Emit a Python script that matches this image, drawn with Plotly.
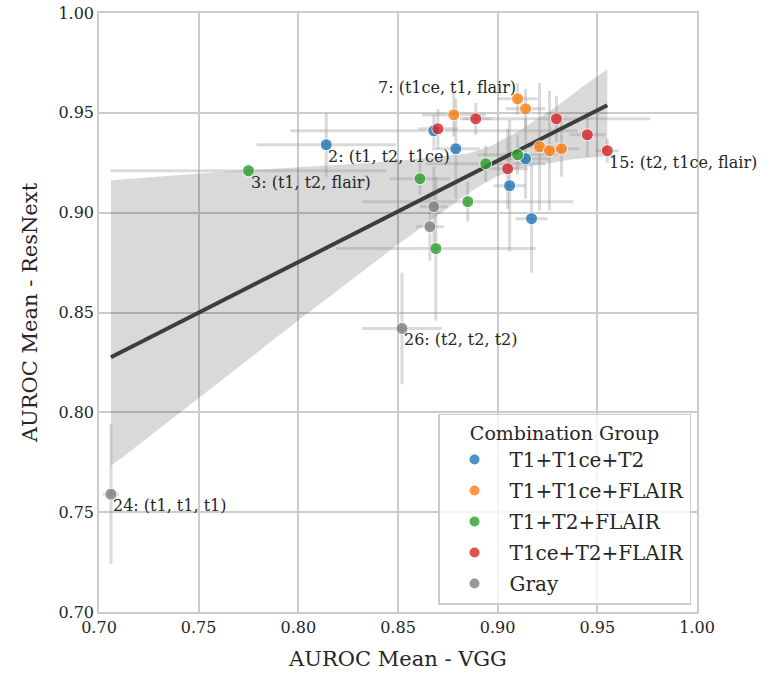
import numpy as np
import plotly.graph_objects as go

groups = ["T1+T1ce+T2", "T1+T1ce+FLAIR", "T1+T2+FLAIR", "T1ce+T2+FLAIR", "Gray"]
colors = ["#1f77b4", "#ff7f0e", "#2ca02c", "#d62728", "#7f7f7f"]

# per-group values: VGG mean, ResNext mean, VGG std, ResNext std
vgg = {
    "T1+T1ce+T2":    [0.814, 0.868, 0.879, 0.914, 0.906, 0.917],
    "T1+T1ce+FLAIR": [0.910, 0.914, 0.878, 0.921, 0.926, 0.932],
    "T1+T2+FLAIR":   [0.775, 0.861, 0.894, 0.910, 0.885, 0.869],
    "T1ce+T2+FLAIR": [0.870, 0.889, 0.9295, 0.945, 0.955, 0.905],
    "Gray":          [0.868, 0.866, 0.852, 0.706],
}
resnext = {
    "T1+T1ce+T2":    [0.934, 0.941, 0.932, 0.927, 0.9135, 0.897],
    "T1+T1ce+FLAIR": [0.957, 0.952, 0.949, 0.933, 0.931, 0.932],
    "T1+T2+FLAIR":   [0.921, 0.917, 0.9245, 0.929, 0.9055, 0.882],
    "T1ce+T2+FLAIR": [0.942, 0.947, 0.947, 0.939, 0.931, 0.922],
    "Gray":          [0.903, 0.893, 0.842, 0.759],
}
vgg_err = {
    "T1+T1ce+T2":    [0.035, 0.072, 0.012, 0.012, 0.008, 0.008],
    "T1+T1ce+FLAIR": [0.010, 0.010, 0.016, 0.008, 0.008, 0.009],
    "T1+T2+FLAIR":   [0.069, 0.015, 0.030, 0.020, 0.053, 0.050],
    "T1ce+T2+FLAIR": [0.010, 0.008, 0.047, 0.009, 0.006, 0.010],
    "Gray":          [0.007, 0.007, 0.020, 0.004],
}
resnext_err = {
    "T1+T1ce+T2":    [0.016, 0.008, 0.025, 0.020, 0.033, 0.027],
    "T1+T1ce+FLAIR": [0.008, 0.010, 0.011, 0.032, 0.030, 0.014],
    "T1+T2+FLAIR":   [0.003, 0.008, 0.009, 0.010, 0.010, 0.036],
    "T1ce+T2+FLAIR": [0.010, 0.008, 0.0115, 0.011, 0.006, 0.020],
    "Gray":          [0.020, 0.017, 0.028, 0.035],
}

# annotated combinations: (group, index in group, text, anchor)
labels = [
    ("T1+T1ce+T2", 0, "2: (t1, t2, t1ce)", "tl"),
    ("T1+T2+FLAIR", 0, "3: (t1, t2, flair)", "tl"),
    ("T1+T1ce+FLAIR", 0, "7: (t1ce, t1, flair)", "br"),
    ("T1ce+T2+FLAIR", 4, "15: (t2, t1ce, flair)", "tl"),
    ("Gray", 3, "24: (t1, t1, t1)", "tl"),
    ("Gray", 2, "26: (t2, t2, t2)", "tl"),
]

FONT = "DejaVu Serif"
TXT = "#262626"

all_x = np.concatenate([vgg[g] for g in groups])
all_y = np.concatenate([resnext[g] for g in groups])

# regression fit + bootstrap CI (as seaborn regplot does)
grid = np.linspace(all_x.min(), all_x.max(), 100)
coef = np.polyfit(all_x, all_y, 1)
fit = np.polyval(coef, grid)
rng = np.random.default_rng(0)
boots = []
n = len(all_x)
for _ in range(1000):
    idx = rng.integers(0, n, n)
    c = np.polyfit(all_x[idx], all_y[idx], 1)
    boots.append(np.polyval(c, grid))
boots = np.array(boots)
lo, hi = np.percentile(boots, [2.5, 97.5], axis=0)

fig = go.Figure()

fig.add_trace(go.Scatter(
    x=np.concatenate([grid, grid[::-1]]), y=np.concatenate([hi, lo[::-1]]),
    fill="toself", fillcolor="rgba(0,0,0,0.15)", line=dict(width=0),
    mode="lines", showlegend=False, hoverinfo="skip"))

# error bars
fig.add_trace(go.Scatter(
    x=all_x, y=all_y, mode="markers", marker=dict(size=1, opacity=0),
    error_x=dict(type="data", array=np.concatenate([vgg_err[g] for g in groups]),
                 color="rgba(150,150,150,0.35)", thickness=3, width=0),
    error_y=dict(type="data", array=np.concatenate([resnext_err[g] for g in groups]),
                 color="rgba(150,150,150,0.35)", thickness=3, width=0),
    showlegend=False, hoverinfo="skip"))

fig.add_trace(go.Scatter(
    x=grid, y=fit, mode="lines", line=dict(color="#3d3d3d", width=4),
    showlegend=False, hoverinfo="skip"))

for g, c in zip(groups, colors):
    fig.add_trace(go.Scatter(
        x=vgg[g], y=resnext[g], mode="markers", name=g, legendgroup=g,
        marker=dict(color=c, size=12, opacity=0.8, line=dict(color="white", width=1))))

for g, i, t, a in labels:
    if a == "tl":
        xa, ya = "left", "top"
    else:
        xa, ya = "right", "bottom"
    fig.add_annotation(x=vgg[g][i], y=resnext[g][i], text=t, showarrow=False,
                       xanchor=xa, yanchor=ya, font=dict(family=FONT, size=16, color=TXT))

axis_common = dict(range=[0.70, 1.00], dtick=0.05, tickformat=".2f",
                   showgrid=True, gridcolor="#cccccc", gridwidth=1.5,
                   showline=True, linecolor="#cccccc", linewidth=1.5, mirror=True,
                   zeroline=False, ticks="", automargin=False, ticklabeloverflow="allow",
                   tickfont=dict(family=FONT, size=16, color=TXT),
                   title_font=dict(family=FONT, size=21, color=TXT))

fig.update_layout(
    width=764, height=680,
    margin=dict(l=99, r=67, t=13, b=68),
    plot_bgcolor="white", paper_bgcolor="white",
    xaxis=dict(title=dict(text="AUROC Mean - VGG"), **axis_common),
    yaxis=dict(title=dict(text="AUROC Mean - ResNext"), **axis_common),
    legend=dict(x=0.99, y=0.012, xanchor="right", yanchor="bottom",
                bgcolor="rgba(255,255,255,0.8)", bordercolor="#cccccc", borderwidth=1.5,
                font=dict(family=FONT, size=20, color=TXT),
                title=dict(text="Combination Group", side="top center",
                           font=dict(family=FONT, size=19, color=TXT)),
                itemsizing="constant", itemwidth=60, tracegroupgap=2),
    font=dict(family=FONT),
)

# remove the default page margin so the 764x680 figure fills the window exactly
fig.write_html("out.html", config={"displayModeBar": False},
               post_script="document.body.style.margin='0';")
